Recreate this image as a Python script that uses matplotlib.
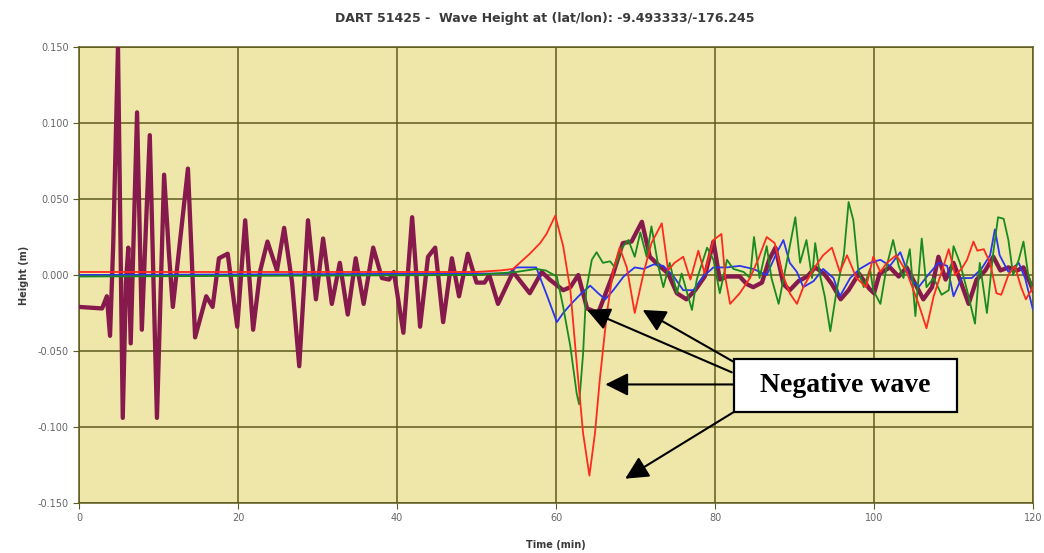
import matplotlib.pyplot as plt
from matplotlib.patches import Rectangle

# observed record (thick maroon line)
obs_t = [0.0, 2.9, 3.5, 3.9, 4.3, 4.9, 5.5, 5.9, 6.2, 6.5, 7.3, 7.9, 8.4, 8.9, 9.8,
         10.7, 11.3, 11.8, 13.7, 14.6, 16.0, 16.8, 17.6, 18.7, 19.9, 20.9, 21.9, 22.8,
         23.7, 24.9, 25.8, 26.8, 27.7, 28.8, 29.8, 30.7, 31.8, 32.8, 33.8, 34.8, 35.8,
         37.0, 38.1, 39.0, 39.6, 40.8, 41.9, 42.9, 43.9, 44.8, 45.8, 46.9, 47.8, 48.9,
         50.0, 51.0, 51.6, 52.7, 54.6, 56.7, 58.2, 59.2, 60.9, 61.8, 62.8, 63.9, 65.3,
         67.2, 68.4, 69.5, 70.8, 71.8, 72.8, 74.1, 75.2, 76.4, 77.5, 78.7, 79.8, 80.6,
         81.5, 83.1, 84.0, 84.8, 85.9, 86.8, 87.6, 88.6, 89.4, 90.5, 91.6, 92.6, 93.7,
         94.7, 95.8, 96.8, 98.1, 99.4, 100.0, 100.7, 102.0, 103.1, 104.1, 105.4, 106.2,
         107.3, 108.1, 109.0, 110.0, 110.8, 111.9, 112.9, 114.0, 115.0, 115.9, 116.9,
         118.0, 118.8, 120.0]
obs_h = [-0.021, -0.022, -0.014, -0.040, 0.020, 0.150, -0.094, -0.005, 0.018, -0.045,
         0.107, -0.036, 0.030, 0.092, -0.094, 0.066, 0.015, -0.021, 0.070, -0.041,
         -0.014, -0.021, 0.011, 0.014, -0.034, 0.036, -0.036, 0.003, 0.022, 0.003,
         0.031, -0.005, -0.060, 0.036, -0.016, 0.024, -0.019, 0.008, -0.026, 0.011,
         -0.019, 0.018, -0.002, -0.003, 0.002, -0.038, 0.038, -0.034, 0.012, 0.018,
         -0.031, 0.011, -0.014, 0.014, -0.005, -0.005, 0.000, -0.019, 0.002, -0.012,
         0.002, -0.003, -0.010, -0.008, 0.000, -0.022, -0.025, 0.001, 0.021, 0.022,
         0.035, 0.012, 0.007, 0.001, -0.012, -0.016, -0.010, -0.001, 0.022, -0.003,
         -0.001, -0.001, -0.006, -0.008, -0.005, 0.010, 0.018, -0.006, -0.010, -0.004,
         -0.001, 0.005, 0.001, -0.006, -0.016, -0.010, 0.001, -0.009, -0.012, 0.001,
         0.005, -0.001, 0.005, -0.008, -0.016, -0.008, 0.012, -0.003, 0.008, -0.003,
         -0.019, -0.003, 0.003, 0.012, 0.003, 0.005, 0.003, 0.005, -0.010]

# model run 1 (red)
red_t = [0, 50, 53.0, 54.6, 56.7, 58.0, 58.8, 59.9, 60.9, 61.8, 62.6, 63.4, 64.2, 64.9,
         65.5, 66.4, 67.2, 68.0, 68.9, 69.9, 71.0, 72.0, 73.3, 74.1, 74.9, 76.0, 76.9,
         77.9, 78.7, 79.8, 80.8, 81.3, 81.9, 83.1, 84.4, 85.4, 86.5, 87.5, 88.4, 89.4,
         90.3, 91.1, 92.4, 93.6, 94.7, 95.7, 96.6, 97.8, 99.0, 99.9, 100.8, 101.6,
         102.8, 104.1, 105.6, 106.6, 107.5, 108.5, 109.4, 110.2, 111.0, 111.7, 112.5,
         113.0, 113.8, 114.6, 115.4, 116.0, 116.9, 117.7, 118.5, 119.1, 120.0]
red_h = [0.002, 0.002, 0.003, 0.004, 0.014, 0.021, 0.027, 0.039, 0.019, -0.010, -0.058,
         -0.104, -0.132, -0.104, -0.069, -0.025, 0.003, 0.018, 0.005, -0.025, 0.001,
         0.021, 0.034, 0.003, 0.008, 0.012, -0.003, 0.016, 0.001, 0.023, 0.027, -0.002,
         -0.019, -0.012, -0.002, 0.010, 0.025, 0.021, 0.002, -0.012, -0.019, -0.008,
         0.004, 0.013, 0.018, 0.002, 0.013, -0.002, -0.008, 0.012, 0.002, 0.008, 0.013,
         0.002, -0.019, -0.035, -0.014, 0.002, 0.017, 0.000, 0.004, 0.010, 0.022, 0.016,
         0.017, 0.008, -0.012, -0.013, 0.000, 0.006, -0.008, -0.016, -0.008]

# model run 2 (green)
green_t = [0, 50, 55.0, 57.5, 58.7, 60.1, 60.9, 61.8, 62.6, 62.9, 63.4, 63.8, 64.5,
           65.1, 65.9, 66.8, 67.4, 68.3, 69.1, 69.9, 70.6, 71.4, 72.0, 72.9, 73.5,
           74.3, 75.2, 75.8, 77.1, 77.7, 79.0, 79.8, 80.6, 81.5, 82.3, 83.6, 84.4,
           84.9, 85.6, 86.5, 87.1, 88.0, 89.0, 90.1, 90.7, 91.5, 92.2, 92.6, 93.2,
           93.8, 94.5, 95.3, 96.2, 96.8, 97.4, 98.0, 98.7, 99.5, 99.9, 100.8, 101.6,
           102.4, 103.1, 103.7, 104.5, 105.2, 106.0, 106.6, 107.5, 108.5, 109.4, 110.0,
           110.8, 111.7, 112.7, 113.3, 114.2, 115.0, 115.6, 116.3, 116.9, 117.5, 118.2,
           118.8, 119.4, 120.0]
green_h = [-0.001, 0.000, 0.002, 0.004, 0.003, -0.001, -0.021, -0.047, -0.078, -0.085,
           -0.052, -0.010, 0.010, 0.015, 0.008, 0.009, 0.005, 0.018, 0.023, 0.012,
           0.028, 0.012, 0.032, 0.005, -0.008, 0.008, -0.012, 0.001, -0.023, -0.003,
           0.018, 0.010, -0.012, 0.010, 0.004, 0.002, -0.002, 0.025, -0.002, 0.019,
           -0.002, -0.019, 0.008, 0.038, 0.008, 0.023, -0.002, 0.021, 0.000, -0.014,
           -0.037, -0.010, 0.013, 0.048, 0.036, 0.004, -0.008, 0.004, -0.010, -0.019,
           0.006, 0.023, 0.006, -0.002, 0.017, -0.027, 0.024, -0.008, -0.002, -0.013,
           -0.010, 0.019, 0.008, -0.010, -0.032, 0.008, -0.025, 0.015, 0.038, 0.037,
           0.023, 0.000, 0.010, 0.022, 0.000, -0.010]

# model run 3 (blue)
blue_t = [0, 54.0, 55.0, 57.5, 58.9, 60.1, 60.9, 61.9, 63.2, 64.3, 65.3, 66.2, 67.2,
          68.5, 69.9, 71.0, 72.3, 73.5, 74.8, 76.0, 77.3, 78.5, 79.8, 81.5, 83.1, 84.8,
          86.5, 87.8, 88.6, 89.4, 90.3, 91.1, 92.4, 93.6, 94.9, 95.7, 97.0, 98.2, 99.5,
          100.8, 102.0, 103.3, 104.5, 105.6, 106.8, 108.1, 109.2, 110.0, 111.0, 112.3,
          113.5, 114.6, 115.2, 115.8, 116.9, 118.2, 119.0, 120.0]
blue_h = [0.000, 0.001, 0.005, 0.005, -0.014, -0.031, -0.025, -0.019, -0.012, -0.007,
          -0.012, -0.016, -0.010, -0.001, 0.005, 0.004, 0.007, 0.006, -0.001, -0.010,
          -0.010, -0.001, 0.005, 0.005, 0.006, 0.004, 0.000, 0.015, 0.023, 0.008, 0.002,
          -0.008, -0.004, 0.004, -0.002, -0.014, -0.002, 0.004, 0.008, 0.010, 0.006,
          0.015, -0.002, -0.008, 0.000, 0.008, 0.006, -0.014, -0.002, -0.002, 0.004,
          0.013, 0.030, 0.013, 0.002, 0.008, -0.002, -0.023]

x_ticks = [0, 20, 40, 60, 80, 100, 120]
y_ticks = [-0.150, -0.100, -0.050, 0.000, 0.050, 0.100, 0.150]

fig = plt.figure(figsize=(10.44, 5.53), dpi=100)
ax = fig.add_axes([0.0757, 0.0904, 0.9138, 0.8246])
ax.set_facecolor('#eee7a9')

ax.plot(obs_t, obs_h, color='#871a4c', lw=3.1, zorder=3)
ax.plot(blue_t, blue_h, color='#2b35f0', lw=1.3, zorder=4)
ax.plot(green_t, green_h, color='#198a1e', lw=1.3, zorder=4)
ax.plot(red_t, red_h, color='#ff2a1e', lw=1.3, zorder=5)

ax.set_xlim(0, 120)
ax.set_ylim(-0.150, 0.150)
ax.set_xticks(x_ticks)
ax.set_yticks(y_ticks)
ax.set_yticklabels(['%.3f' % v for v in y_ticks])
ax.grid(True, color='#5e5a1e', lw=1.1)
ax.set_axisbelow(True)
for s in ax.spines.values():
    s.set_color('#5e5a1e')
    s.set_linewidth(1.1)
ax.tick_params(labelsize=7, colors='#666666', length=4, color='#5e5a1e')

ax.set_title('DART 51425 -  Wave Height at (lat/lon): -9.493333/-176.245',
             fontsize=9, fontweight='bold', color='#3a3a3a', pad=18, x=0.488)
ax.set_ylabel('Height (m)', fontsize=7, fontweight='bold', color='#3a3a3a', labelpad=6)
ax.set_xlabel('Time (min)', fontsize=7, fontweight='bold', color='#3a3a3a', labelpad=12)

# callout box with arrows
box_x0, box_x1 = 82.4, 110.4
box_y0, box_y1 = -0.090, -0.055
ax.add_patch(Rectangle((box_x0, box_y0), box_x1 - box_x0, box_y1 - box_y0,
                       facecolor='white', edgecolor='black', lw=1.6, zorder=7))
ax.text((box_x0 + box_x1) / 2, (box_y0 + box_y1) / 2, 'Negative wave',
        fontsize=20, fontweight='bold', family='Liberation Serif',
        ha='center', va='center', zorder=8)

arrows = [((82.1, -0.064), (63.9, -0.023)),
          ((82.3, -0.057), (70.9, -0.023)),
          ((82.3, -0.072), (66.2, -0.072)),
          ((82.4, -0.090), (68.7, -0.134))]
for start, tip in arrows:
    ax.annotate('', xy=tip, xytext=start,
                arrowprops=dict(arrowstyle='-|>,head_length=0.5,head_width=0.25',
                                color='black', lw=1.5, mutation_scale=28,
                                shrinkA=0, shrinkB=0),
                zorder=6)

fig.savefig('out.png', dpi=100)
